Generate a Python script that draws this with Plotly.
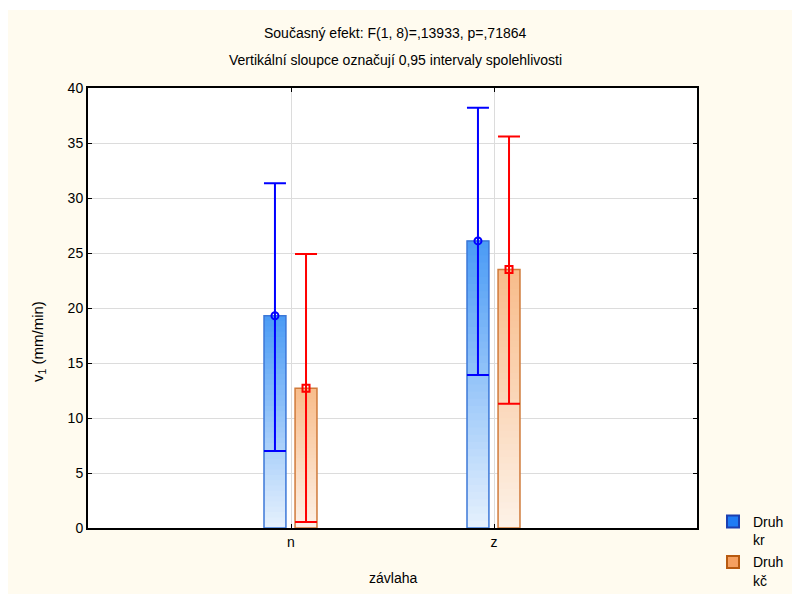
import plotly.graph_objects as go

# ---- data ----
categories = ["n", "z"]
series_names = ["Druh<br>kr", "Druh<br>kč"]
means_kr = [19.3, 26.1]
upper_kr = [31.35, 38.2]
lower_kr = [7.0, 13.9]
means_kc = [12.7, 23.5]
upper_kc = [24.9, 35.6]
lower_kc = [0.55, 11.3]
y_ticks = [0, 5, 10, 15, 20, 25, 30, 35, 40]
title_1 = "Současný efekt: F(1, 8)=,13933, p=,71864"
title_2 = "Vertikální sloupce označují 0,95 intervaly spolehlivosti"
x_title = "závlaha"
y_title = "v<sub>1</sub> (mm/min)"

cat_pos = {c: i + 1 for i, c in enumerate(categories)}
BAR_W = 0.108
OFFSETS = [-0.079, 0.074]
FONT = "Liberation Sans, Arial, sans-serif"

def lerp(c1, c2, t):
    return "rgb(%d,%d,%d)" % tuple(round(a + (b - a) * t) for a, b in zip(c1, c2))

series = [
    dict(name=series_names[0], means=means_kr, up=upper_kr, lo=lower_kr,
         top=(74, 155, 245), bot=(230, 241, 253), edge="#3c78d8",
         err="#0000ff", sym="circle-open", leg_fill="#1f7cf5", leg_edge="#1c3fb0"),
    dict(name=series_names[1], means=means_kc, up=upper_kc, lo=lower_kc,
         top=(248, 188, 138), bot=(253, 242, 232), edge="#d07a3a",
         err="#ff0000", sym="square-open", leg_fill="#f6a060", leg_edge="#b85a10"),
]

fig = go.Figure()
N = 40
for i, (s, off) in enumerate(zip(series, OFFSETS)):
    xs = [cat_pos[c] + off for c in categories]
    # gradient: overlapping segments, each from k/N of the mean up to the mean
    for k in range(N):
        t = (k + 0.5) / N
        fig.add_trace(go.Bar(
            x=xs, y=[m * (1 - k / N) for m in s["means"]], base=[m * k / N for m in s["means"]],
            width=BAR_W, marker=dict(color=lerp(s["bot"], s["top"], t), line=dict(width=0)),
            showlegend=False, hoverinfo="skip"))
    # outline
    fig.add_trace(go.Bar(
        x=xs, y=s["means"], width=BAR_W,
        marker=dict(color="rgba(0,0,0,0)", line=dict(color=s["edge"], width=1.5)),
        showlegend=False, hoverinfo="skip"))
    # error bars + mean markers
    fig.add_trace(go.Scatter(
        x=xs, y=s["means"], mode="markers",
        marker=dict(symbol=s["sym"], size=7, color=s["err"], line=dict(width=2, color=s["err"])),
        error_y=dict(type="data", symmetric=False,
                     array=[u - m for u, m in zip(s["up"], s["means"])],
                     arrayminus=[m - l for m, l in zip(s["means"], s["lo"])],
                     color=s["err"], thickness=2, width=11),
        showlegend=False))
    # legend entry
    fig.add_trace(go.Bar(
        x=[None], y=[None], name=s["name"], legendgroup="g%d" % i,
        marker=dict(color=s["leg_fill"], line=dict(color=s["leg_edge"], width=2))))

fig.update_layout(
    width=792, height=594,
    autosize=False,
    barmode="overlay",
    paper_bgcolor="#FFFBEF",
    plot_bgcolor="white",
    margin=dict(l=88, r=95, t=88, b=66),
    font=dict(family=FONT, size=14, color="black"),
    xaxis=dict(range=[0, 3], tickvals=[cat_pos[c] for c in categories], ticktext=categories,
               showgrid=True, gridcolor="#dcdcdc", gridwidth=1,
               showline=True, linecolor="black", linewidth=2, mirror="ticks",
               ticks="inside", ticklen=4, tickcolor="black", zeroline=False,
               tickfont=dict(size=14), automargin=False),
    yaxis=dict(range=[0, 40], tickvals=y_ticks,
               showgrid=True, gridcolor="#dcdcdc", gridwidth=1,
               showline=True, linecolor="black", linewidth=2, mirror="ticks",
               ticks="inside", ticklen=4, tickcolor="black", zeroline=False,
               tickfont=dict(size=14), automargin=False),
    legend=dict(xref="container", yref="container", x=713 / 792, xanchor="left",
                y=(594 - 506) / 594, yanchor="top", valign="top",
                bgcolor="rgba(0,0,0,0)", font=dict(size=14), tracegroupgap=1,
                itemsizing="constant"),
    annotations=[
        dict(text=title_1, xref="paper", yref="paper", x=0.5057, y=(528 - 33) / 440,
             xanchor="center", yanchor="middle", showarrow=False, font=dict(size=14)),
        dict(text=title_2, xref="paper", yref="paper", x=0.5057, y=(528 - 60) / 440,
             xanchor="center", yanchor="middle", showarrow=False, font=dict(size=14)),
        dict(text=x_title, xref="paper", yref="paper", x=0.5, y=(528 - 578) / 440,
             xanchor="center", yanchor="middle", showarrow=False, font=dict(size=14)),
        dict(text=y_title, xref="paper", yref="paper", x=(38 - 88) / 609, y=(528 - 342) / 440,
             xanchor="center", yanchor="middle", showarrow=False, textangle=-90,
             font=dict(size=15)),
    ],
    shapes=[
        dict(type="rect", xref="paper", yref="paper", x0=-0.2, x1=1.2, y0=(528 - 10) / 440, y1=1.3,
             fillcolor="white", line=dict(width=0), layer="below"),
        dict(type="rect", xref="paper", yref="paper", x0=-0.2, x1=(8 - 88) / 609, y0=-0.2, y1=1.3,
             fillcolor="white", line=dict(width=0), layer="below"),
    ],
)

fig.write_html("out.html",
               config=dict(displayModeBar=False, responsive=False),
               post_script="document.body.style.margin='0';document.body.style.padding='0';"
                           "document.documentElement.style.overflow='hidden';")
